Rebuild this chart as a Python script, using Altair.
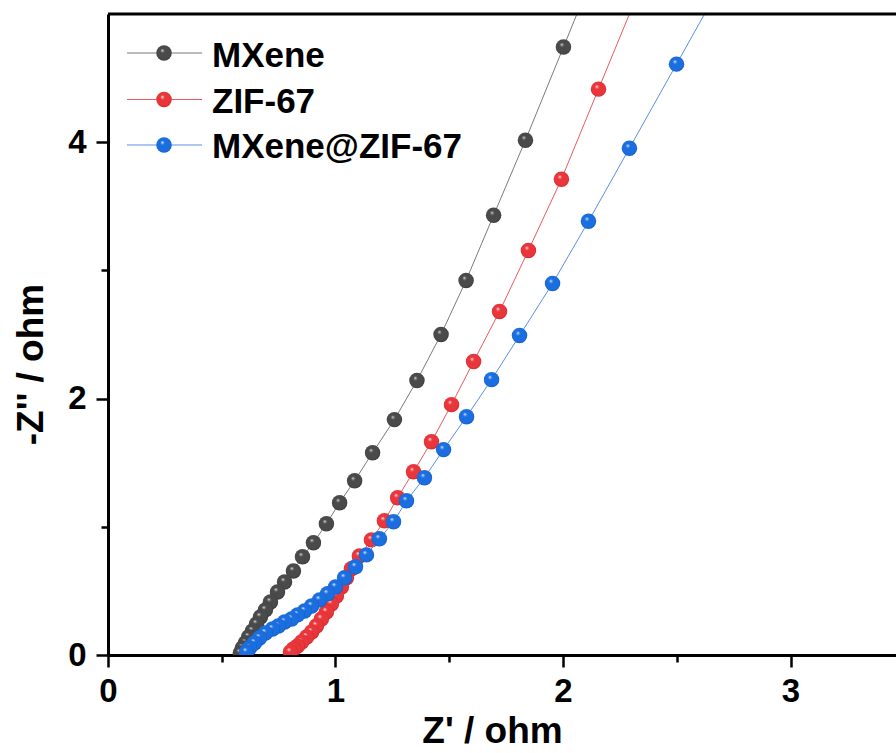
import altair as alt
import pandas as pd

# ---------------- data ----------------
series_names = ["MXene", "ZIF-67", "MXene@ZIF-67"]

mxene_zr = [2.196, 2.002, 1.835, 1.695, 1.574, 1.464, 1.358, 1.259, 1.163, 1.084, 1.018, 0.960,
            0.903, 0.855, 0.815, 0.776, 0.745, 0.714, 0.692, 0.670, 0.653, 0.635, 0.618, 0.604,
            0.591, 0.582]
mxene_zi = [5.586, 4.742, 4.016, 3.430, 2.922, 2.500, 2.141, 1.836, 1.578, 1.359, 1.188, 1.023,
            0.875, 0.766, 0.656, 0.570, 0.492, 0.414, 0.352, 0.297, 0.242, 0.188, 0.141, 0.094,
            0.055, 0.016]

zif_zr = [2.341, 2.156, 1.993, 1.848, 1.721, 1.607, 1.510, 1.422, 1.343, 1.273, 1.215, 1.158,
          1.105, 1.070, 1.048, 1.026, 1.004, 0.982, 0.960, 0.938, 0.916, 0.895, 0.873, 0.851,
          0.833, 0.815, 0.802]
zif_zi = [5.211, 4.414, 3.711, 3.156, 2.680, 2.289, 1.953, 1.664, 1.430, 1.227, 1.047, 0.898,
          0.773, 0.672, 0.602, 0.531, 0.461, 0.398, 0.336, 0.281, 0.227, 0.180, 0.141, 0.102,
          0.070, 0.047, 0.023]

mz_zr = [2.720, 2.499, 2.292, 2.112, 1.954, 1.809, 1.686, 1.576, 1.475, 1.391, 1.312, 1.255,
         1.193, 1.136, 1.088, 1.040, 1.000, 0.965, 0.930, 0.895, 0.864, 0.833, 0.807, 0.776,
         0.749, 0.723, 0.692, 0.666, 0.644, 0.622, 0.609]
mz_zi = [5.310, 4.609, 3.953, 3.383, 2.898, 2.492, 2.148, 1.859, 1.602, 1.383, 1.203, 1.039,
         0.906, 0.781, 0.688, 0.602, 0.531, 0.477, 0.430, 0.383, 0.344, 0.313, 0.281, 0.258,
         0.227, 0.203, 0.172, 0.133, 0.094, 0.055, 0.023]

x_ticks = [0, 0.5, 1, 1.5, 2, 2.5, 3]
y_ticks = [0, 1, 2, 3, 4]

# ---------------- styling ----------------
FONT = "Liberation Sans"
W, H = 788, 641
MSIZE = 240
base_cols = {"MXene": "#4a4a4a", "ZIF-67": "#e8363b", "MXene@ZIF-67": "#1b6ee0"}
dark_cols = {"MXene": "#2e2e2e", "ZIF-67": "#c41e24", "MXene@ZIF-67": "#0f52b8"}
light_cols = {"MXene": "#9a9a9a", "ZIF-67": "#f5a0a2", "MXene@ZIF-67": "#8fb8f2"}
line_cols = {"MXene": "#7a7a7a", "ZIF-67": "#ec5a5e", "MXene@ZIF-67": "#5b8fe2"}


def sphere(name):
    return {
        "gradient": "radial",
        "x1": 0.38, "y1": 0.32, "r1": 0.0,
        "x2": 0.5, "y2": 0.5, "r2": 0.55,
        "stops": [
            {"offset": 0.0, "color": "#ffffff"},
            {"offset": 0.1, "color": light_cols[name]},
            {"offset": 0.26, "color": base_cols[name]},
            {"offset": 0.8, "color": base_cols[name]},
            {"offset": 1.0, "color": dark_cols[name]},
        ],
    }


x_scale = alt.Scale(domain=[0, W / 227.5], nice=False, zero=False)
y_scale = alt.Scale(domain=[0, 5], nice=False, zero=False)

x_axis = alt.Axis(
    values=x_ticks,
    labelExpr="datum.value % 1 === 0 ? format(datum.value, 'd') : ''",
    tickSize={"condition": {"test": "datum.value % 1 === 0", "value": 12}, "value": 7},
    labelPadding=8,
    labelFlush=False,
    title="Z' / ohm",
    titleX=384,
    titleY=87,
    titleBaseline="alphabetic",
    titleAlign="center",
)
y_axis = alt.Axis(
    values=y_ticks,
    labelExpr="datum.value % 2 === 0 ? format(datum.value, 'd') : ''",
    tickSize={"condition": {"test": "datum.value % 2 === 0", "value": 12}, "value": 7},
    labelPadding=10,
    labelFlush=False,
    title="-Z'' / ohm",
    titleX=-66,
    titleY=350,
    titleAngle=270,
    titleBaseline="alphabetic",
    titleAlign="center",
)

frames = {
    "MXene": (mxene_zr, mxene_zi),
    "ZIF-67": (zif_zr, zif_zi),
    "MXene@ZIF-67": (mz_zr, mz_zi),
}

layers = []
for name in series_names:
    zr, zi = frames[name]
    df = pd.DataFrame({"zr": zr, "zi": zi, "order": list(range(len(zr)))})
    enc_x = alt.X("zr:Q", scale=x_scale, axis=x_axis)
    enc_y = alt.Y("zi:Q", scale=y_scale, axis=y_axis)
    line = alt.Chart(df).mark_line(color=line_cols[name], strokeWidth=1, clip=True).encode(
        x=enc_x, y=enc_y, order="order:Q")
    pts = alt.Chart(df).mark_point(shape="circle", filled=True, size=MSIZE, fill=sphere(name),
                                   opacity=1, strokeWidth=0, clip=True).encode(
        x=enc_x, y=enc_y)
    layers += [line, pts]

# top frame line
one = pd.DataFrame({"a": [0]})
layers.append(alt.Chart(one).mark_rule(color="black", strokeWidth=3).encode(
    x=alt.value(0), x2=alt.value(W), y=alt.value(0)))

# custom legend (line + sphere + bold label)
legend_line_y = [39, 85.5, 131]
legend_text_y = [53, 98.5, 144]
for i, name in enumerate(series_names):
    lab = pd.DataFrame({"label": [name]})
    layers.append(alt.Chart(lab).mark_rule(color=line_cols[name], strokeWidth=1).encode(
        x=alt.value(19), x2=alt.value(94), y=alt.value(legend_line_y[i])))
    layers.append(alt.Chart(lab).mark_point(shape="circle", filled=True, size=MSIZE, fill=sphere(name),
                                            opacity=1, strokeWidth=0).encode(
        x=alt.value(56), y=alt.value(legend_line_y[i])))
    layers.append(alt.Chart(lab).mark_text(font=FONT, fontSize=35, fontWeight="bold", align="left",
                                           baseline="alphabetic", color="black").encode(
        x=alt.value(104), y=alt.value(legend_text_y[i]), text="label:N"))

chart = alt.layer(*layers).properties(
    width=W,
    height=H,
    background="white",
    autosize=alt.AutoSizeParams(type="none"),
    padding={"left": 108, "top": 14, "right": 0, "bottom": 98},
).configure_view(strokeWidth=0, stroke="transparent").configure_axis(
    grid=False,
    domainColor="black",
    domainWidth=3,
    tickColor="black",
    tickWidth=2.5,
    labelFont=FONT,
    labelFontSize=33,
    labelFontWeight="bold",
    labelColor="black",
    titleFont=FONT,
    titleFontSize=37,
    titleFontWeight="bold",
    titleColor="black",
)

chart.save("out.html", embed_options={"renderer": "svg", "actions": False})
